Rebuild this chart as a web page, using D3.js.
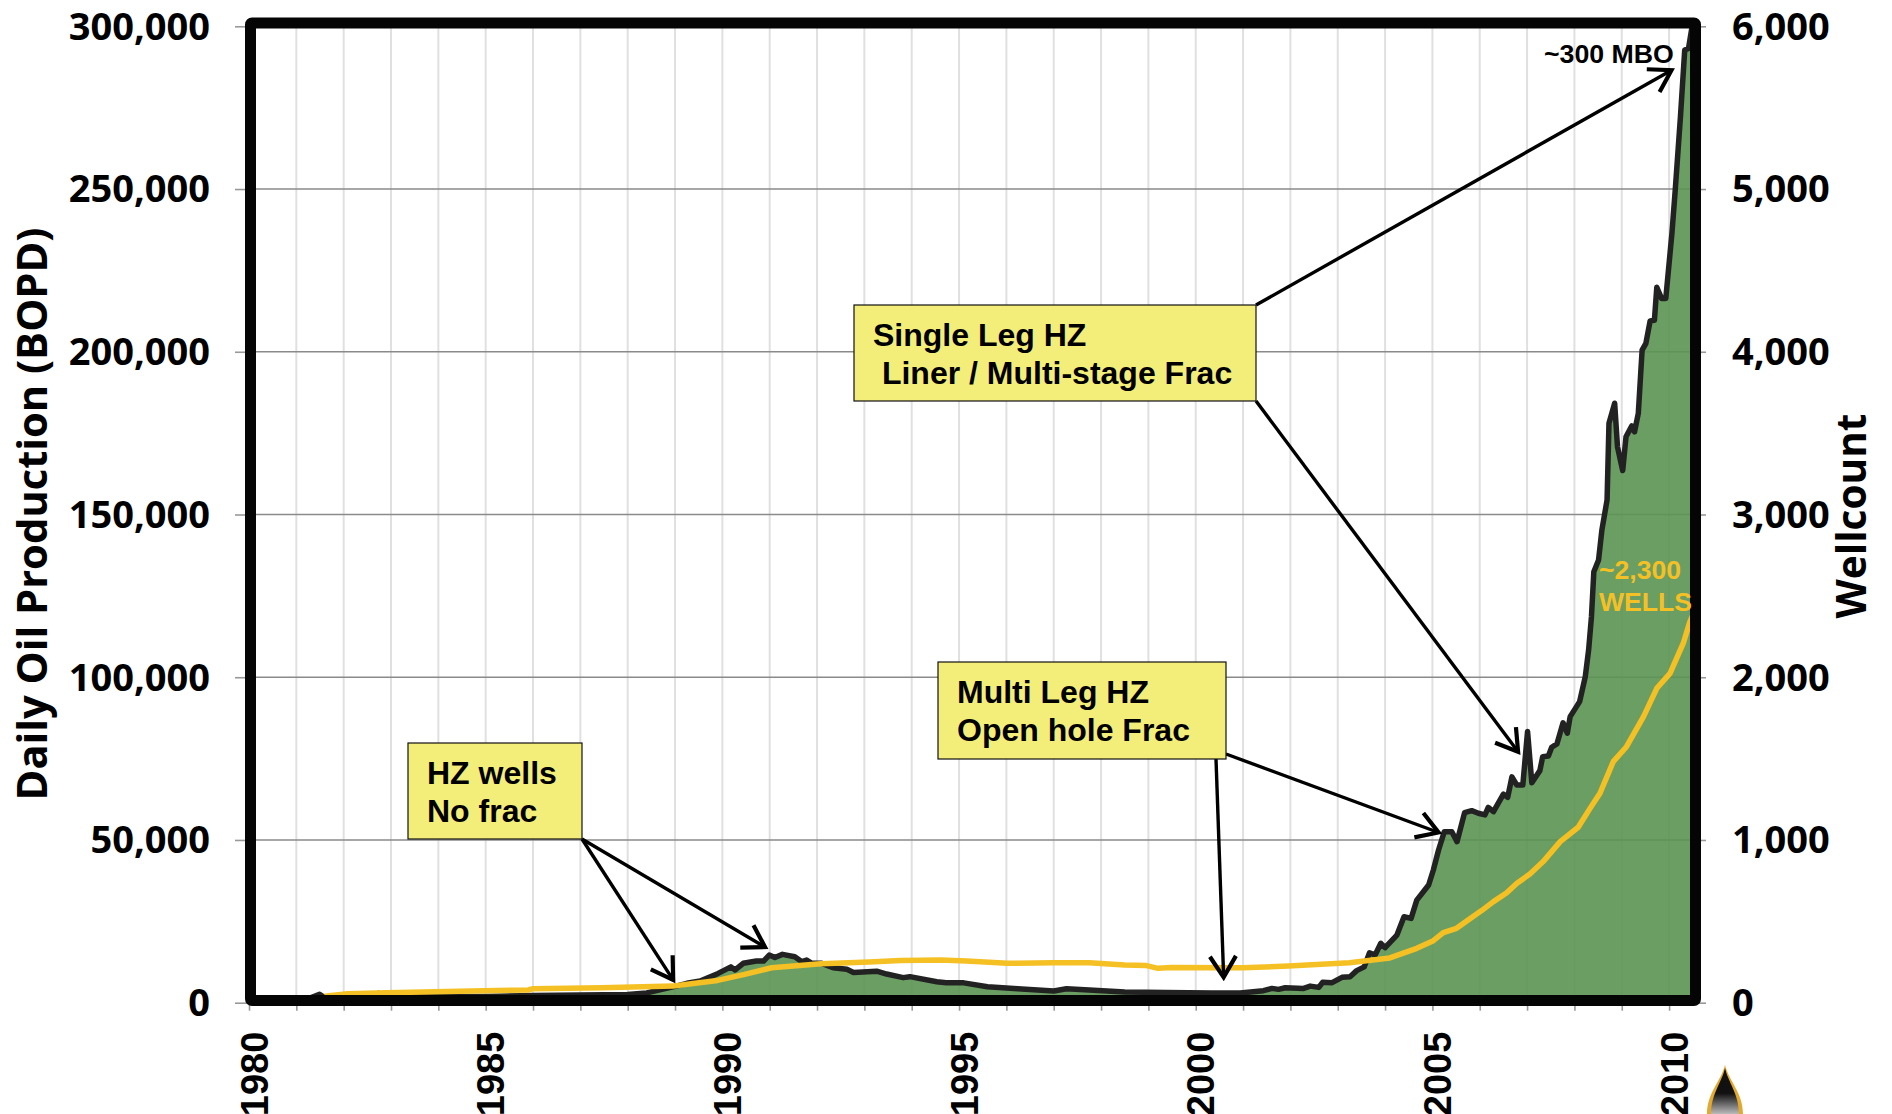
<!DOCTYPE html>
<html>
<head>
<meta charset="utf-8">
<script src="https://cdn.jsdelivr.net/npm/d3@7"></script>
<style>
body { margin: 0; background: #fff; overflow: hidden; }
text { fill: #000; }
.num { font-family: "Open Sans", sans-serif; font-weight: 700; font-size: 38px; }
.arial { font-family: "Liberation Sans", sans-serif; font-weight: 700; }
</style>
</head>
<body>
<script>
// production, barrels per day
var prodYears = [1980.9,1981.3,1981.49,1981.6,1982.6,1982.74,1982.85,1985,1986,1987,1988,1988.4,1989,1989.25,1989.53,1989.91,1990.18,1990.27,1990.44,1990.72,1990.87,1990.99,1991.11,1991.27,1991.53,1991.68,1991.78,1991.89,1992.1,1992.34,1992.63,1992.77,1993.26,1993.47,1993.82,1993.96,1994.53,1994.73,1995.1,1995.6,1996.24,1997,1997.27,1997.75,1998.5,1999.37,2000.34,2000.94,2001.43,2001.61,2001.75,2001.89,2002.28,2002.42,2002.6,2002.68,2002.88,2003.09,2003.26,2003.4,2003.56,2003.67,2003.79,2003.91,2004,2004.25,2004.4,2004.55,2004.67,2004.92,2005.02,2005.13,2005.25,2005.41,2005.52,2005.68,2005.83,2005.97,2006.11,2006.18,2006.29,2006.5,2006.59,2006.68,2006.78,2006.91,2007.01,2007.1,2007.27,2007.33,2007.45,2007.52,2007.63,2007.76,2007.85,2007.91,2008.11,2008.23,2008.3,2008.36,2008.41,2008.51,2008.58,2008.69,2008.73,2008.85,2008.91,2009.02,2009.09,2009.21,2009.27,2009.35,2009.43,2009.51,2009.6,2009.69,2009.74,2009.84,2009.93,2010.06,2010.13,2010.24,2010.33,2010.41,2010.48];
var prodValues = [0,1500,2600,1500,1800,2900,1800,1900,2200,2400,2500,3000,5000,5950,6650,9000,11000,10050,12100,12800,12800,14650,13900,14850,14100,12600,13100,12100,12100,10750,10250,9300,9700,8800,7700,8000,6450,6100,6100,4900,4300,3600,4300,3900,3300,3100,3000,3000,3700,4400,4100,4600,4400,5100,4700,6250,6150,7800,8000,9850,11000,15300,14650,18250,16900,20800,26400,25900,31500,36160,40770,46900,52500,52500,49470,58400,59000,58200,57700,60000,58700,64100,63100,69400,66900,66900,83300,67600,71300,75600,75800,78500,79500,86000,82800,87900,92500,100200,108400,118600,132400,136000,145200,154500,178000,184200,170800,163500,173900,177200,175400,181100,200500,202600,209500,209700,219800,216400,216400,236400,249700,272200,292700,293200,299400];
// well count
var wellYears = [1981.6,1982.08,1982.9,1984.7,1985.9,1986,1987.45,1988.96,1989.34,1989.9,1990.47,1991.04,1991.5,1992.08,1993.1,1993.76,1994.62,1995.16,1996.02,1997,1997.75,1998.5,1998.94,1999.2,1999.48,2001,2001.96,2003.25,2004.1,2004.67,2005.02,2005.23,2005.51,2005.8,2006.04,2006.29,2006.57,2006.78,2007.06,2007.34,2007.7,2008.08,2008.33,2008.54,2008.82,2009.1,2009.46,2009.74,2010.02,2010.3,2010.44,2010.56];
var wellValues = [40,55,61,72,78,86,92,102,117,137,174,215,225,240,250,260,262,256,242,246,246,231,229,211,217,215,225,246,275,334,381,430,457,518,566,621,676,733,791,867,990,1078,1194,1287,1481,1573,1758,1932,2024,2209,2342,2420];
var yearTicks = d3.range(1980, 2011);
var prodTicks = [0,50000,100000,150000,200000,250000,300000];
var wellTicks = [0,1000,2000,3000,4000,5000,6000];

// callouts: box text and the data point each arrow is pointing at
var callouts = [
  {lines: ["HZ wells", "No frac"], box: [408,743,174,96], tx: 19, arrows: [
    {from: [582,839], year: 1988.96, val: 7000},
    {from: [582,839], year: 1990.9, val: 17100}]},
  {lines: ["Multi Leg HZ", "Open hole Frac"], box: [938,662,288,97], tx: 19, arrows: [
    {from: [1226,754], year: 2005.13, val: 52300},
    {from: [1216,759], year: 2000.59, val: 7800}]},
  {lines: ["Single Leg HZ", " Liner / Multi-stage Frac"], box: [854,305,402,96], tx: 19, arrows: [
    {from: [1256,305], year: 2010.05, val: 286500},
    {from: [1256,401], year: 2006.81, val: 77100}]}
];

var width = 1892, height = 1114;

var x = d3.scaleLinear().domain([1980, 2010.56]).range([249, 1695.6]);
var y = d3.scaleLinear().domain([0, 300000]).range([1002.7, 26.3]);
var y2 = d3.scaleLinear().domain([0, 6000]).range([1002.7, 26.3]);

var svg = d3.select("body").append("svg")
    .attr("width", width)
    .attr("height", height);

var defs = svg.append("defs");
defs.append("marker")
    .attr("id", "head")
    .attr("markerUnits", "userSpaceOnUse")
    .attr("viewBox", "-24 -16 28 32")
    .attr("refX", 0).attr("refY", 0)
    .attr("markerWidth", 28).attr("markerHeight", 32)
    .attr("orient", "auto")
    .append("path")
    .attr("d", "M-21,-13L0,0L-21,13")
    .attr("fill", "none")
    .attr("stroke", "#000")
    .attr("stroke-width", 4.2);

var grad = defs.append("linearGradient")
    .attr("id", "drop").attr("x1", 0).attr("y1", 0).attr("x2", 0).attr("y2", 1);
grad.append("stop").attr("offset", "55%").attr("stop-color", "#111");
grad.append("stop").attr("offset", "100%").attr("stop-color", "#bbb");

// year gridlines
svg.append("g").selectAll("line")
    .data(yearTicks.slice(1))
    .join("line")
    .attr("x1", function(d) { return x(d); })
    .attr("x2", function(d) { return x(d); })
    .attr("y1", y(300000))
    .attr("y2", y(0))
    .attr("stroke", "#e0e0e0")
    .attr("stroke-width", 2);

// value gridlines
svg.append("g").selectAll("line")
    .data(prodTicks.slice(1, -1))
    .join("line")
    .attr("x1", x(1980))
    .attr("x2", x(2010.56))
    .attr("y1", function(d) { return y(d); })
    .attr("y2", function(d) { return y(d); })
    .attr("stroke", "#8a8a8a")
    .attr("stroke-width", 1.6);

var prod = prodYears.map(function(d, i) { return {year: d, val: prodValues[i]}; });
var wells = wellYears.map(function(d, i) { return {year: d, val: wellValues[i]}; });

var area = d3.area()
    .x(function(d) { return x(d.year); })
    .y0(y(0))
    .y1(function(d) { return y(d.val); });

var prodLine = d3.line()
    .x(function(d) { return x(d.year); })
    .y(function(d) { return y(d.val); });

var wellLine = d3.line()
    .x(function(d) { return x(d.year); })
    .y(function(d) { return y2(d.val); });

svg.append("path").datum(prod)
    .attr("d", area)
    .attr("fill", "#5b9352")
    .attr("fill-opacity", 0.9);

svg.append("path").datum(prod)
    .attr("d", prodLine)
    .attr("fill", "none")
    .attr("stroke", "#222")
    .attr("stroke-width", 5.5)
    .attr("stroke-linejoin", "round");

svg.append("path").datum(wells)
    .attr("d", wellLine)
    .attr("fill", "none")
    .attr("stroke", "#f5c024")
    .attr("stroke-width", 5.5)
    .attr("stroke-linejoin", "round");

// axes
var xAxis = svg.append("g")
    .attr("transform", "translate(0," + y(0) + ")")
    .call(d3.axisBottom(x)
        .tickValues(yearTicks)
        .tickSize(8)
        .tickFormat(function(d) { return d % 5 === 0 ? d : ""; }));
xAxis.select(".domain").remove();
xAxis.selectAll("line").attr("stroke", "#999").attr("stroke-width", 1.6);
xAxis.selectAll("text")
    .attr("class", "arial")
    .style("font-size", "38px")
    .attr("text-anchor", "end")
    .attr("dy", 0)
    .attr("x", 0)
    .attr("y", 0)
    .attr("transform", "translate(18,29) rotate(-90)");

var yAxis = svg.append("g")
    .attr("transform", "translate(250,0)")
    .call(d3.axisLeft(y)
        .tickValues(prodTicks)
        .tickSize(15)
        .tickPadding(25)
        .tickFormat(d3.format(",")));
yAxis.select(".domain").remove();
yAxis.selectAll("line").attr("stroke", "#999").attr("stroke-width", 1.6);
yAxis.selectAll("text").attr("class", "num").attr("dy", "0.34em");

var yAxisR = svg.append("g")
    .attr("transform", "translate(1695,0)")
    .call(d3.axisRight(y2)
        .tickValues(wellTicks)
        .tickSize(11)
        .tickPadding(26)
        .tickFormat(d3.format(",")));
yAxisR.select(".domain").remove();
yAxisR.selectAll("line").attr("stroke", "#999").attr("stroke-width", 1.6);
yAxisR.selectAll("text").attr("class", "num").attr("dy", "0.34em");

// heavy frame
svg.append("rect")
    .attr("x", 250.5).attr("y", 23)
    .attr("width", 1445).attr("height", 977.5)
    .attr("fill", "none")
    .attr("stroke", "#050505")
    .attr("stroke-width", 11)
    .attr("rx", 1.5);

// axis titles
svg.append("text")
    .attr("class", "num")
    .style("font-size", "41.7px")
    .attr("text-anchor", "middle")
    .attr("transform", "translate(47,514) rotate(-90)")
    .text("Daily Oil Production (BOPD)");
svg.append("text")
    .attr("class", "num")
    .style("font-size", "40.6px")
    .attr("text-anchor", "middle")
    .attr("transform", "translate(1866,516) rotate(-90)")
    .text("Wellcount");

// callout arrows then boxes
callouts.forEach(function(c) {
    c.arrows.forEach(function(a) {
        svg.append("line")
            .attr("x1", a.from[0]).attr("y1", a.from[1])
            .attr("x2", x(a.year)).attr("y2", y(a.val))
            .attr("stroke", "#000")
            .attr("stroke-width", 3.4)
            .attr("marker-end", "url(#head)");
    });
    svg.append("rect")
        .attr("x", c.box[0]).attr("y", c.box[1])
        .attr("width", c.box[2]).attr("height", c.box[3])
        .attr("fill", "#f3ee7a")
        .attr("stroke", "#111")
        .attr("stroke-width", 1.2);
    c.lines.forEach(function(t, i) {
        svg.append("text")
            .attr("class", "arial")
            .style("white-space", "pre")
            .attr("x", c.box[0] + c.tx)
            .attr("y", c.box[1] + 41 + i * 38)
            .attr("font-size", 32)
            .text(t);
    });
});

svg.append("text")
    .attr("class", "arial")
    .attr("x", 1544).attr("y", 63)
    .attr("font-size", 26.7)
    .text("~300 MBO");

svg.selectAll(".wellnote")
    .data(["~2,300", "WELLS"])
    .join("text")
    .attr("class", "arial wellnote")
    .attr("x", 1599)
    .attr("y", function(d, i) { return 579 + i * 32; })
    .attr("font-size", 26.6)
    .style("fill", "#f5c024")
    .text(function(d) { return d; });

// little oil drop logo, bottom right
var logo = svg.append("g").attr("transform", "translate(1725,1065)");
logo.append("path")
    .attr("d", "M0,0C4,16 18,28 18,49L-18,49C-18,28 -4,16 0,0Z")
    .attr("fill", "#e3a92f");
logo.append("path")
    .attr("d", "M0,3C3,17 14,29 14,49L-14,49C-14,29 -3,17 0,3Z")
    .attr("fill", "url(#drop)");
</script>
</body>
</html>
